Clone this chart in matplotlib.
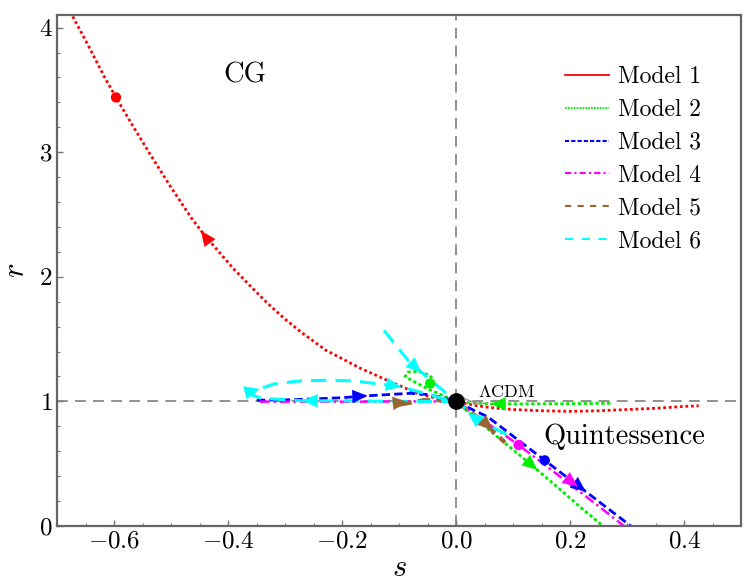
import numpy as np
import matplotlib
matplotlib.use('Agg')
import matplotlib.pyplot as plt
from matplotlib.lines import Line2D
from matplotlib.ticker import MultipleLocator, FuncFormatter

plt.rcParams['mathtext.fontset'] = 'cm'
plt.rcParams['font.family'] = ['cmr10', 'DejaVu Serif']
plt.rcParams['axes.unicode_minus'] = False

# DATA

labels = ['Model 1', 'Model 2', 'Model 3', 'Model 4', 'Model 5', 'Model 6']
colors = ['#ff0000', '#00ee00', '#0000ff', '#ff00ff', '#996633', '#00ffff']

# model 1
s1 = [-0.673, -0.645, -0.618, -0.597, -0.57, -0.536, -0.501, -0.466, -0.448, -0.419,
      -0.39, -0.36, -0.331, -0.302, -0.273, -0.229, -0.168, -0.109, -0.068, -0.03, 0.0,
      0.03, 0.06, 0.1, 0.15, 0.2, 0.25, 0.3, 0.35, 0.4, 0.425]
r1 = [4.09, 3.85, 3.61, 3.44, 3.23, 2.975, 2.721, 2.48, 2.37, 2.213,
      2.06, 1.919, 1.786, 1.666, 1.558, 1.411, 1.265, 1.144, 1.064, 1.02, 1.0,
      0.97, 0.95, 0.935, 0.925, 0.92, 0.925, 0.935, 0.945, 0.96, 0.965]
# model 2
s2a = [0.27, 0.2, 0.12, 0.06, 0.02, 0.0, -0.02, -0.05, -0.075, -0.09, -0.085, -0.068,
       -0.05, -0.04, -0.046]
r2a = [0.985, 0.982, 0.98, 0.98, 0.99, 1.0, 1.04, 1.1, 1.16, 1.2, 1.235, 1.24,
       1.215, 1.18, 1.144]
s2b = [0.0, 0.03, 0.06, 0.1, 0.142, 0.17, 0.21, 0.257]
r2b = [1.0, 0.88, 0.76, 0.61, 0.45, 0.34, 0.18, 0.0]
# model 3
s3a = [-0.35, -0.3, -0.25, -0.2, -0.156, -0.12, -0.08, -0.05, -0.02, 0.0]
r3a = [1.01, 1.012, 1.02, 1.03, 1.045, 1.055, 1.065, 1.055, 1.025, 1.0]
s3b = [0.0, 0.03, 0.055, 0.09, 0.12, 0.155, 0.195, 0.227, 0.265, 0.306]
r3b = [1.0, 0.93, 0.876, 0.754, 0.649, 0.527, 0.387, 0.276, 0.143, 0.0]
# model 4
s4a = [-0.345, -0.25, -0.15, -0.08, -0.03, 0.0]
r4a = [0.998, 0.998, 0.998, 1.0, 1.0, 1.0]
s4b = [0.0, 0.04, 0.08, 0.109, 0.15, 0.2, 0.25, 0.294]
r4b = [1.0, 0.87, 0.745, 0.65, 0.508, 0.333, 0.157, 0.0]
# model 5
s5a = [-0.1, -0.08, -0.057, -0.03, 0.0]
r5a = [0.975, 0.99, 1.01, 1.01, 1.0]
s5b = [0.0, 0.02, 0.04, 0.06, 0.085]
r5b = [1.0, 0.93, 0.86, 0.78, 0.67]
# model 6
s6a = [-0.127, -0.085, -0.04, 0.0, 0.03, 0.06, 0.09]
r6a = [1.57, 1.33, 1.15, 1.0, 0.89, 0.8, 0.73]
s6b = [0.0, -0.05, -0.1, -0.2, -0.27, -0.343, -0.36, -0.352, -0.32, -0.273, -0.226,
       -0.18, -0.136, -0.097, -0.06, -0.03, 0.0]
r6b = [1.0, 1.0, 1.0, 1.005, 1.005, 1.026, 1.055, 1.09, 1.14, 1.165, 1.17,
       1.165, 1.14, 1.117, 1.07, 1.03, 1.0]

# present-day points
dot_s = [-0.597, -0.046, 0.155, 0.109]
dot_r = [3.44, 1.144, 0.527, 0.65]
dot_c = [colors[0], colors[1], colors[2], colors[3]]

# arrows: (s, r, ds, dr, colour index)
arrows = [(-0.448, 2.37, -0.106, 0.67, 0),
          (0.06, 0.98, -1, 0, 1), (0.142, 0.45, 1, -3.9, 1),
          (-0.156, 1.045, 1, 0.2, 2), (0.227, 0.276, 1, -3.5, 2),
          (0.213, 0.315, 1, -3.5, 3),
          (-0.085, 0.995, 1, 0.4, 4), (0.064, 0.77, 1, -4.2, 4),
          (-0.062, 1.23, 1, -4.5, 5), (0.02, 0.91, -1, 3.5, 5),
          (-0.27, 1.005, -1, 0, 5), (-0.345, 1.1, 1, 1.2, 5), (-0.097, 1.117, 1, -0.8, 5)]

# FIGURE

fig = plt.figure(figsize=(7.56, 5.84), dpi=100)
ax = fig.add_axes([0.0758, 0.0993, 0.905, 0.8747])

ax.axvline(0, color='#888888', lw=1.3, ls=(0, (6, 4)), zorder=1)
ax.axhline(1, color='#888888', lw=1.3, ls=(0, (6, 4)), zorder=1)

ax.plot(s1, r1, color=colors[0], lw=2, ls=(0, (1, 1)))
for s, r in [(s2a, r2a), (s2b, r2b)]:
    ax.plot(s, r, color=colors[1], lw=2, ls=(0, (1.2, 0.9)))
for s, r in [(s3a, r3a), (s3b, r3b)]:
    ax.plot(s, r, color=colors[2], lw=2, ls=(0, (3, 1.5)))
for s, r in [(s4a, r4a), (s4b, r4b)]:
    ax.plot(s, r, color=colors[3], lw=1.8, ls=(0, (4, 1.5, 1, 1.5)))
for s, r in [(s5a, r5a), (s5b, r5b)]:
    ax.plot(s, r, color=colors[4], lw=3, ls=(0, (3, 1.5)))
for s, r in [(s6a, r6a), (s6b, r6b)]:
    ax.plot(s, r, color=colors[5], lw=2.2, ls=(0, (5, 3)))

ax.set_xlim(-0.7, 0.5)
ax.set_ylim(0, 4.1)

fig.canvas.draw()
for (x, y, dx, dy, ci) in arrows:
    p0 = ax.transData.transform((x, y))
    p1 = ax.transData.transform((x + dx * 0.01, y + dy * 0.01))
    d = (p1 - p0) / np.hypot(*(p1 - p0))
    ax.annotate('', xy=(x, y), xytext=(-d[0] * 13, -d[1] * 13), textcoords='offset pixels',
                arrowprops=dict(arrowstyle='-|>,head_length=0.95,head_width=0.42',
                                color=colors[ci], lw=0.3, shrinkA=0, shrinkB=0,
                                mutation_scale=11), zorder=4)

ax.scatter(dot_s, dot_r, s=55, c=dot_c, zorder=5, edgecolors='none')
ax.plot([0], [1], 'o', color='black', ms=11, zorder=6)

ax.annotate(r'$\mathit{\Lambda}$CDM', xy=(0.012, 1.03), xytext=(0.037, 1.077),
            fontsize=13, va='center', ha='left',
            arrowprops=dict(arrowstyle='-', color='#999999', lw=1,
                            connectionstyle='arc3,rad=-0.4', shrinkA=1, shrinkB=0))
ax.text(-0.371, 3.62, 'CG', fontsize=20.5, ha='center', va='center')
ax.text(0.294, 0.72, 'Quintessence', fontsize=20.5, ha='center', va='center')

handles = [Line2D([], [], color=colors[0], lw=1.3),
           Line2D([], [], color=colors[1], lw=1.3, ls=(0, (1, 0.6))),
           Line2D([], [], color=colors[2], lw=1.5, ls=(0, (2, 1))),
           Line2D([], [], color=colors[3], lw=1.5, ls=(0, (3, 1.5, 1, 1.5))),
           Line2D([], [], color=colors[4], lw=1.5, ls=(0, (3, 3))),
           Line2D([], [], color=colors[5], lw=1.5, ls=(0, (4, 4)))]
ax.legend(handles, labels, loc='upper left', bbox_to_anchor=(0.742, 0.9),
          frameon=False, fontsize=17, handlelength=1.85, labelspacing=0.45,
          handletextpad=0.4, borderaxespad=0, borderpad=0)

ax.xaxis.set_major_locator(MultipleLocator(0.2))
ax.xaxis.set_minor_locator(MultipleLocator(0.05))
ax.yaxis.set_major_locator(MultipleLocator(1))
ax.yaxis.set_minor_locator(MultipleLocator(0.2))
ax.xaxis.set_major_formatter(FuncFormatter(lambda v, p: f'${v:.1f}$'))
ax.yaxis.set_major_formatter(FuncFormatter(lambda v, p: f'${v:.0f}$'))
ax.tick_params(which='both', direction='in', color='#777777', labelsize=18)
ax.tick_params(which='major', length=4, width=1)
ax.tick_params(which='minor', length=2.5, width=0.8)
for sp in ax.spines.values():
    sp.set_color('#666666')
    sp.set_linewidth(1.6)

ax.set_xlabel(r'$s$', fontsize=22, labelpad=1)
ax.set_ylabel(r'$r$', fontsize=22, labelpad=6)

fig.savefig('out.png', dpi=100)
